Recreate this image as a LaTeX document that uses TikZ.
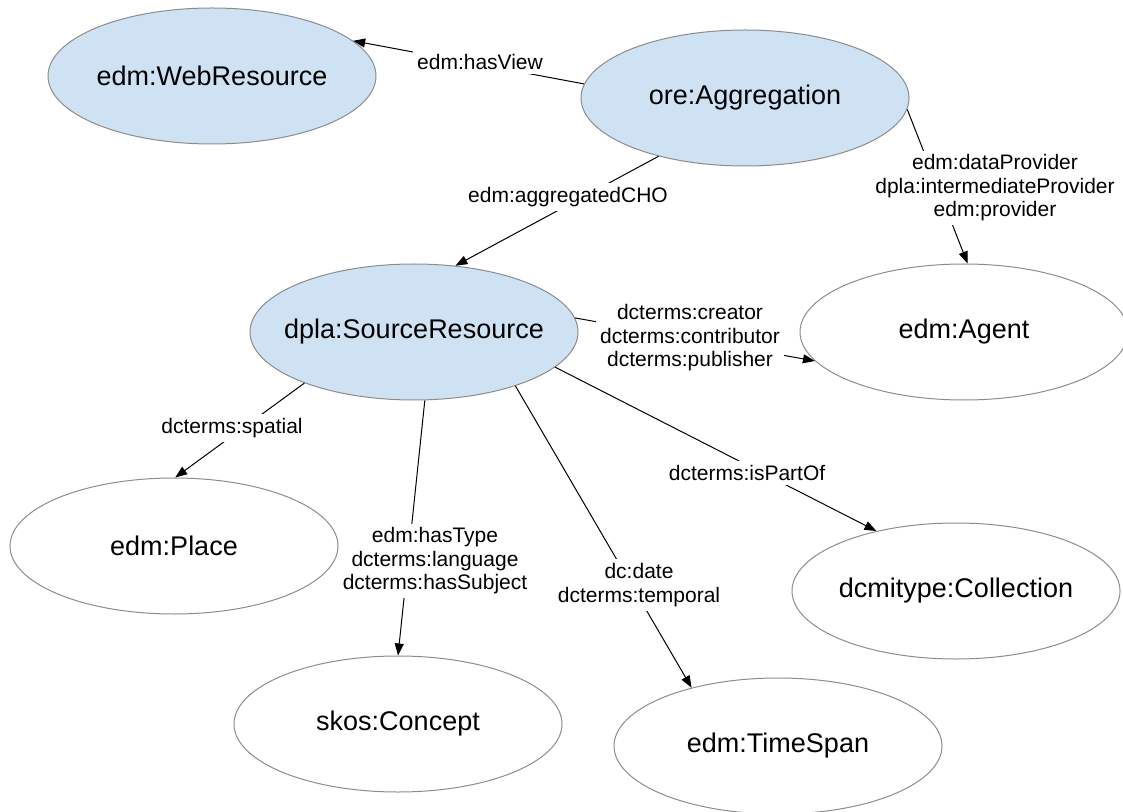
\documentclass[tikz,border=0pt]{standalone}
\usepackage{fontspec}
\setmainfont{Liberation Sans}
\usetikzlibrary{shapes.geometric,arrows.meta}
\definecolor{entblue}{HTML}{CFE2F3}
\definecolor{entline}{HTML}{8C8C8C}

\begin{document}
\begin{tikzpicture}[x=0.5pt,y=-0.5pt,
	ent/.style={ellipse,draw=entline,line width=.5pt,minimum width=164pt,minimum height=68pt,inner sep=0pt,font=\fontsize{13.5pt}{16pt}\selectfont},
	core/.style={ent,fill=entblue},
	rel/.style={draw=black,line width=.5pt,-{Triangle[length=6pt,width=4.5pt]}},
	lbl/.style={fill=white,inner sep=2pt,align=center,font=\fontsize{10.5pt}{11.75pt}\selectfont}]
	\useasboundingbox (0,0) rectangle (1123,812);
	\node[core] (web) at (212,76) {\makebox[0pt]{edm:WebResource}};
	\node[core] (agg) at (745,98) {\makebox[0pt]{ore:Aggregation}};
	\node[core] (src) at (414,332) {\makebox[0pt]{dpla:SourceResource}};
	\node[ent] (agent) at (964,332) {\makebox[0pt]{edm:Agent}};
	\node[ent] (place) at (174,546) {\makebox[0pt]{edm:Place}};
	\node[ent] (concept) at (398,724) {\makebox[0pt]{skos:Concept}};
	\node[ent] (span) at (778,746) {\makebox[0pt]{edm:TimeSpan}};
	\node[ent] (coll) at (956,591) {\makebox[0pt]{dcmitype:Collection}};
	\draw[rel] (agg.175) -- (web.14);
	\draw[rel] (agg.214) -- (src.58);
	\draw[rel] (agg.356) -- (agent.87);
	\draw[rel] (src.5) -- (agent.191);
	\draw[rel] (src.205) -- (place.89);
	\draw[rel] (src.279) -- (concept.90);
	\draw[rel] (src.332) -- (span.146);
	\draw[rel] (src.346) -- (coll.143);
	\node[lbl] (lview) at (480,62) {edm:hasView};
	\node[lbl] (lcho) at (568,197) {edm:aggregatedCHO};
	\node[lbl] (lprov) at (995,188) {edm:dataProvider\\dpla:intermediateProvider\\edm:provider};
	\node[lbl] (lcre) at (690,338) {dcterms:creator\\dcterms:contributor\\dcterms:publisher};
	\node[lbl] (lspat) at (232,428) {dcterms:spatial};
	\node[lbl] (ltype) at (435,561) {edm:hasType\\dcterms:language\\dcterms:hasSubject};
	\node[lbl] (ldate) at (639,585) {dc:date\\dcterms:temporal};
	\node[lbl] (lpart) at (747,473) {dcterms:isPartOf};
\end{tikzpicture}
\end{document}
